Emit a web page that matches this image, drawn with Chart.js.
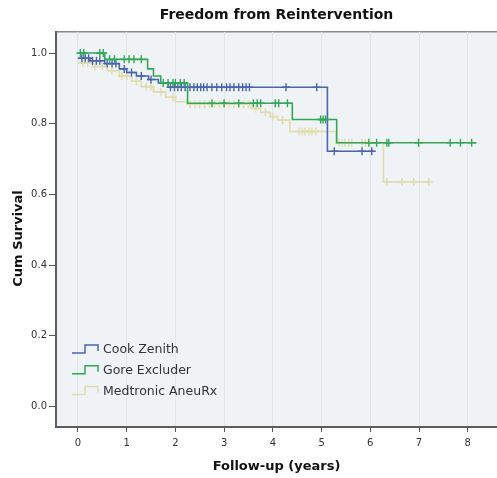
<!DOCTYPE html>
<html>
<head>
<meta charset="utf-8">
<script src="https://cdn.jsdelivr.net/npm/chart.js@4/dist/chart.umd.min.js"></script>
<style>
    body { margin: 0; background: #fff; }
    #wrap { width: 497px; height: 478px; }
</style>
</head>
<body>
<div id="wrap"><canvas id="km" width="497" height="478"></canvas></div>
<script>
// Kaplan-Meier steps: time (years) / cum survival after the step
const cookTimes = [0, 0.25, 0.55, 0.85, 1.0, 1.2, 1.45, 1.65, 1.85, 5.12, 6.07];
const cookSurv = [0.985, 0.978, 0.970, 0.955, 0.945, 0.935, 0.925, 0.915, 0.903, 0.722, 0.722];
const cookCensor = [0.08, 0.15, 0.22, 0.3, 0.38, 0.45, 0.6, 0.7, 0.78, 0.95, 1.1, 1.3, 1.5,
    1.9, 1.98, 2.05, 2.12, 2.2, 2.3, 2.38, 2.45, 2.52, 2.58, 2.65, 2.75, 2.85, 2.95, 3.05,
    3.12, 3.2, 3.3, 3.38, 3.45, 3.52, 4.27, 4.9, 5.26, 5.83, 6.03];

const goreTimes = [0, 0.55, 1.43, 1.55, 1.7, 2.25, 4.4, 5.31, 8.18];
const goreSurv = [1.0, 0.982, 0.955, 0.935, 0.915, 0.858, 0.812, 0.746, 0.746];
const goreCensor = [0.05, 0.12, 0.45, 0.52, 0.65, 0.75, 0.95, 1.05, 1.15, 1.3, 1.75, 1.85,
    1.95, 2.0, 2.1, 2.18, 2.75, 3.0, 3.3, 3.6, 3.68, 3.75, 4.05, 4.12, 4.3, 4.98, 5.03, 5.08,
    5.97, 6.13, 6.34, 6.38, 6.99, 7.64, 7.85, 8.08];

const medTimes = [0, 0.3, 0.6, 0.85, 1.1, 1.3, 1.55, 1.8, 2.0, 2.25, 3.55, 3.75, 3.95, 4.1,
    4.35, 5.3, 6.27, 7.23];
const medSurv = [0.972, 0.962, 0.95, 0.935, 0.92, 0.905, 0.89, 0.875, 0.862, 0.855, 0.843,
    0.832, 0.82, 0.81, 0.778, 0.746, 0.635, 0.635];
const medCensor = [0.1, 0.2, 0.35, 0.5, 0.7, 0.9, 1.0, 1.2, 1.4, 1.5, 1.7, 1.95, 2.3, 2.4,
    2.5, 2.6, 2.7, 2.8, 2.9, 3.0, 3.1, 3.2, 3.3, 3.4, 3.5, 3.65, 3.85, 4.0, 4.2, 4.54, 4.6,
    4.66, 4.74, 4.8, 4.88, 5.36, 5.42, 5.48, 5.56, 5.62, 5.83, 5.9, 6.34, 6.65, 6.89, 7.2];

const xTickValues = [0, 1, 2, 3, 4, 5, 6, 7, 8];
const yTickValues = [0, 0.2, 0.4, 0.6, 0.8, 1.0];

const FONT = "'DejaVu Sans', Arial, sans-serif";

const groups = [
    { label: "Cook Zenith", times: cookTimes, surv: cookSurv, censor: cookCensor, color: "#4a64b4", order: 1 },
    { label: "Gore Excluder", times: goreTimes, surv: goreSurv, censor: goreCensor, color: "#2fa955", order: 0 },
    { label: "Medtronic AneuRx", times: medTimes, surv: medSurv, censor: medCensor, color: "#e0dcab", order: 2 },
];

// survival value holding at time t (last step at or before t)
function survAt(times, surv, t) {
    let v = surv[0];
    for (let i = 0; i < times.length; i++) {
        if (times[i] <= t) v = surv[i];
    }
    return v;
}

const datasets = [];
groups.forEach((g) => {
    datasets.push({
        label: g.label,
        data: g.times.map((t, i) => ({ x: t, y: g.surv[i] })),
        showLine: true,
        stepped: true,
        borderColor: g.color,
        borderWidth: 1.6,
        pointRadius: 0,
        order: g.order,
    });
    datasets.push({
        label: g.label + " censored",
        isCensor: true,
        data: g.censor.map((t) => ({ x: t, y: survAt(g.times, g.surv, t) })),
        showLine: false,
        pointStyle: "cross",
        pointRadius: 4,
        borderWidth: 1.4,
        borderColor: g.color,
        backgroundColor: g.color,
        order: g.order,
    });
});

// plot background, top frame line and the step-shaped legend inside the plot
const kmDecor = {
    id: "kmDecor",
    beforeDraw(chart) {
        const { ctx, chartArea: a } = chart;
        ctx.save();
        ctx.fillStyle = "#eff3f5";
        ctx.fillRect(a.left, a.top, a.right - a.left, a.bottom - a.top);
        ctx.strokeStyle = "#8a8a8a";
        ctx.lineWidth = 1.5;
        ctx.beginPath();
        ctx.moveTo(a.left, a.top);
        ctx.lineTo(a.right, a.top);
        ctx.stroke();
        ctx.restore();
    },
    afterDraw(chart) {
        const { ctx, chartArea: a } = chart;
        ctx.save();
        ctx.font = "12.5px " + FONT;
        ctx.textBaseline = "middle";
        let row = 0;
        chart.data.datasets.forEach((ds) => {
            if (ds.isCensor) return;
            const y = a.bottom - 77 + row * 20.7;
            const x = a.left + 16;
            ctx.strokeStyle = ds.borderColor;
            ctx.lineWidth = 1.5;
            ctx.beginPath();
            ctx.moveTo(x, y + 3);
            ctx.lineTo(x + 13, y + 3);
            ctx.lineTo(x + 13, y - 5);
            ctx.lineTo(x + 26, y - 5);
            ctx.lineTo(x + 26, y + 1);
            ctx.stroke();
            ctx.fillStyle = "#333";
            ctx.fillText(ds.label, x + 31, y);
            row++;
        });
        ctx.restore();
    },
};

Chart.defaults.font.family = FONT;
Chart.defaults.color = "#333";

new Chart(document.getElementById("km").getContext("2d"), {
    type: "scatter",
    data: { datasets: datasets },
    options: {
        responsive: false,
        animation: false,
        layout: { autoPadding: false, padding: { left: 0, right: 0, top: 0, bottom: 0 } },
        plugins: {
            legend: { display: false },
            tooltip: { enabled: false },
            title: {
                display: true,
                text: "Freedom from Reintervention",
                fullSize: false,
                color: "#111",
                font: { size: 14, weight: "bold" },
                padding: { top: 7, bottom: 8 },
            },
        },
        scales: {
            x: {
                type: "linear",
                min: -0.45,
                max: 8.6,
                afterBuildTicks: (scale) => {
                    scale.ticks = xTickValues.map((v) => ({ value: v }));
                },
                afterFit: (scale) => {
                    scale.height = 51;
                },
                ticks: { font: { size: 10 }, padding: 5, color: "#333" },
                grid: { color: "#e2e6e9", lineWidth: 1, tickColor: "#555", tickLength: 5 },
                border: { color: "#5e5e5e", width: 2 },
                title: {
                    display: true,
                    text: "Follow-up (years)",
                    color: "#111",
                    font: { size: 13, weight: "bold" },
                    padding: { top: 0, bottom: 4 },
                },
            },
            y: {
                type: "linear",
                min: -0.058,
                max: 1.06,
                afterBuildTicks: (scale) => {
                    scale.ticks = yTickValues.map((v) => ({ value: v }));
                },
                afterFit: (scale) => {
                    scale.width = 56;
                },
                ticks: {
                    font: { size: 10 },
                    padding: 2,
                    color: "#333",
                    callback: (v) => Number(v).toFixed(1),
                },
                grid: { drawOnChartArea: false, tickColor: "#555", tickLength: 7 },
                border: { color: "#5e5e5e", width: 2 },
                title: {
                    display: true,
                    // trailing spaces nudge the rotated title down like the original
                    text: "Cum Survival    ",
                    color: "#111",
                    font: { size: 13, weight: "bold" },
                    padding: { top: 11, bottom: 0 },
                },
            },
        },
    },
    plugins: [kmDecor],
});
</script>
</body>
</html>
